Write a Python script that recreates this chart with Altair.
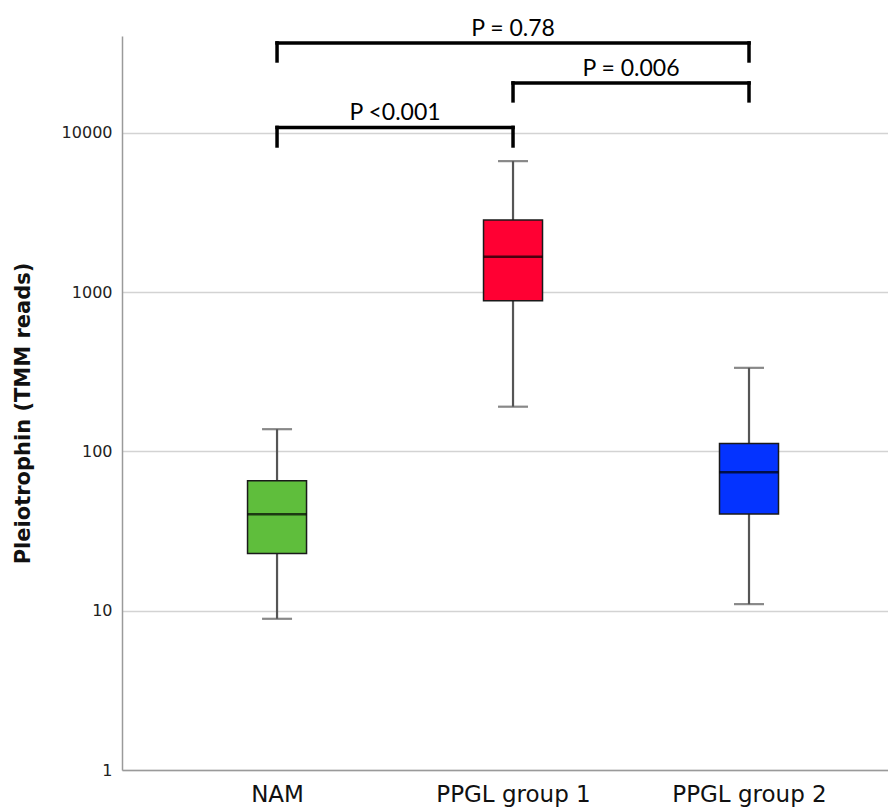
import json
import altair as alt
import pandas as pd

# ---- data ----
groups = ["NAM", "PPGL group 1", "PPGL group 2"]
group_colors = ["#5fbe3c", "#ff0033", "#0433ff"]
whisker_low = [8.9, 191, 11.0]
q1 = [22.9, 883, 40.5]
median = [40.3, 1668, 74]
q3 = [65.5, 2836, 112]
whisker_high = [138, 6650, 335]

bracket_from = [0, 1, 0]
bracket_to = [1, 2, 2]
bracket_top = [10830, 20600, 36740]
bracket_leg = [8280, 15890, 28300]
bracket_label = ["P <0.001", "P = 0.006", "P = 0.78"]

y_ticks = [1, 10, 100, 1000, 10000]

# ---- tables ----
box_df = pd.DataFrame({
    "idx": list(range(len(groups))),
    "group": groups,
    "lo": whisker_low,
    "q1": q1,
    "med": median,
    "q3": q3,
    "hi": whisker_high,
})

br_df = pd.DataFrame({
    "x0": bracket_from,
    "x1": bracket_to,
    "top": bracket_top,
    "leg": bracket_leg,
    "label": bracket_label,
})
br_df["mid"] = (br_df["x0"] + br_df["x1"]) / 2

legs_df = pd.concat([
    pd.DataFrame({"x": bracket_from, "top": bracket_top, "leg": bracket_leg}),
    pd.DataFrame({"x": bracket_to, "top": bracket_top, "leg": bracket_leg}),
], ignore_index=True)

# ---- scales & axes ----
xscale = alt.Scale(domain=[-0.657, 2.589], nice=False, zero=False, padding=0)
yscale = alt.Scale(type="log", domain=[1, 40600], nice=False, padding=0)

label_expr = json.dumps(groups) + "[datum.value]"
x_axis = alt.Axis(values=[0, 1, 2], labelExpr=label_expr, title=None, grid=False,
                  ticks=False, labelAngle=0, labelPadding=13, labelFont="DejaVu Sans",
                  labelFontSize=23, labelColor="#111111", domainColor="#9a9a9a",
                  domainWidth=1.5)
y_axis = alt.Axis(values=y_ticks, format="d", title="Pleiotrophin (TMM reads)",
                  grid=True, gridColor="#d3d3d3", gridWidth=1.5, ticks=False,
                  labelPadding=10, labelFont="DejaVu Sans", labelFontSize=16,
                  labelColor="#222222", domainColor="#9a9a9a", domainWidth=1.5,
                  titleFont="DejaVu Sans", titleFontWeight="bold", titleFontSize=21,
                  titleColor="#111111", titleX=-93, titleY=377, titleAlign="center",
                  titleBaseline="alphabetic")


def X(field):
    return alt.X(field, scale=xscale, axis=x_axis)


def Y(field):
    return alt.Y(field, scale=yscale, axis=y_axis)


base = alt.Chart(box_df)
WHISKER = "#555555"

whiskers = base.mark_rule(color=WHISKER, strokeWidth=2.2).encode(
    x=X("idx:Q"), y=Y("lo:Q"), y2="hi:Q",
)

cap_lo = base.mark_tick(orient="horizontal", size=30, thickness=2.2, color=WHISKER).encode(
    x=X("idx:Q"), y=Y("lo:Q"),
)
cap_hi = base.mark_tick(orient="horizontal", size=30, thickness=2.2, color=WHISKER).encode(
    x=X("idx:Q"), y=Y("hi:Q"),
)

boxes = base.mark_bar(size=59, stroke="#1a1a1a", strokeWidth=1.5, opacity=1).encode(
    x=X("idx:Q"), y=Y("q1:Q"), y2="q3:Q",
    color=alt.Color("group:N", scale=alt.Scale(domain=groups, range=group_colors), legend=None),
)

medians = base.mark_tick(orient="horizontal", size=59, thickness=2.5, color="#000000").encode(
    x=X("idx:Q"), y=Y("med:Q"),
)

br_h = alt.Chart(br_df).mark_rule(color="#000000", strokeWidth=3.5, strokeCap="square").encode(
    x=X("x0:Q"), x2="x1:Q", y=Y("top:Q"),
)

br_v = alt.Chart(legs_df).mark_rule(color="#000000", strokeWidth=3.5, strokeCap="square").encode(
    x=X("x:Q"), y=Y("leg:Q"), y2="top:Q",
)

br_t = alt.Chart(br_df).mark_text(font="Lato", fontSize=23, color="#000000",
                                  baseline="alphabetic", dy=-7).encode(
    x=X("mid:Q"), y=Y("top:Q"), text="label:N",
)

chart = alt.layer(whiskers, cap_lo, cap_hi, boxes, medians, br_h, br_v, br_t).properties(
    width=766,
    height=734,
    autosize=alt.AutoSizeParams(type="none"),
    padding={"left": 114, "top": 28, "right": 0, "bottom": 38},
).configure(background="#ffffff").configure_view(stroke=None)

chart.save("out.html", embed_options={"renderer": "svg", "actions": False})
